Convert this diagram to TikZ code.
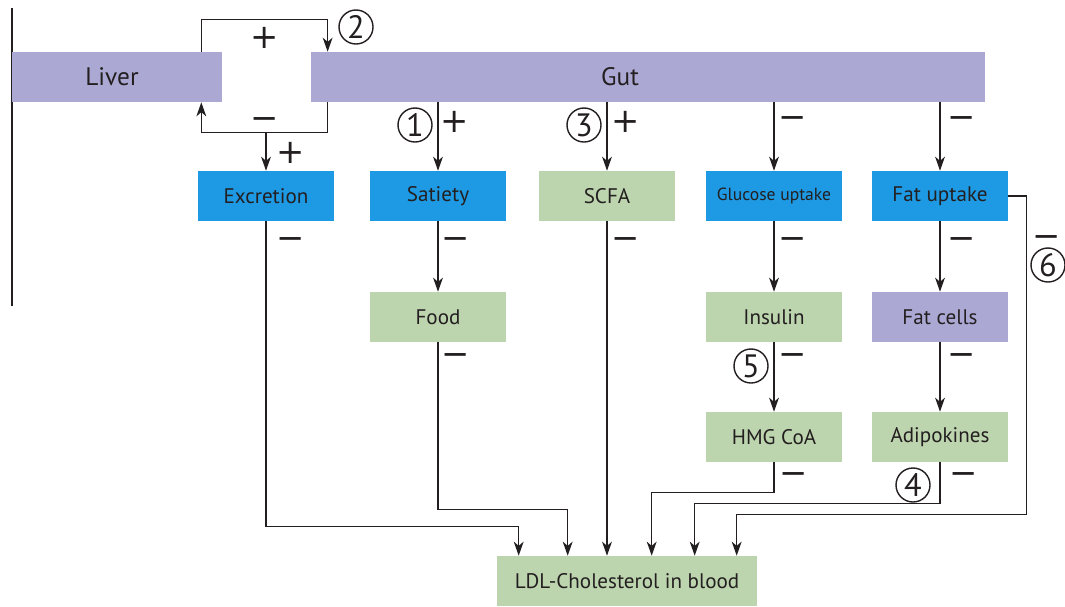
\documentclass[tikz,border=0pt]{standalone}
\usepackage{fontspec}
\setmainfont{PT Sans}
\newfontfamily\signfont{DejaVu Sans}
\usetikzlibrary{arrows.meta,calc}

\definecolor{lavender}{HTML}{ABA9D3}
\definecolor{skyblue}{HTML}{1E9AE4}
\definecolor{sage}{HTML}{BDD5AE}
\definecolor{ink}{HTML}{231F20}

\begin{document}
\begin{tikzpicture}[
    x=0.025cm, y=-0.025cm,
    box/.style={minimum width=3.375cm, minimum height=1.25cm, inner sep=0pt,
        text=ink, font=\fontsize{15}{18}\selectfont},
    organ/.style={box, fill=lavender, font=\fontsize{18}{21}\selectfont},
    bluebox/.style={box, fill=skyblue},
    greenbox/.style={box, fill=sage},
    purplebox/.style={box, fill=lavender},
    arr/.style={-{Stealth[length=10pt,width=7pt,inset=3pt]}, line width=0.9pt, draw=ink},
    sign/.style={font=\signfont\fontsize{24}{24}\selectfont, inner sep=0pt,
        text height=15.8pt, text depth=0pt, text=ink},
    num/.style={circle, draw=ink, line width=1pt, minimum size=0.85cm, inner sep=0pt,
        font=\fontsize{23}{23}\selectfont, text=ink}
]
\useasboundingbox (0,0) rectangle (1065,606);

\draw[ink, line width=0.8pt] (12,8) -- (12,306);

% top row
\node[organ, minimum width=5.25cm] (liver) at (117,77) {Liver\hspace{0.25cm}\null};
\node[organ, minimum width=16.85cm] (gut) at (648,77) {Gut\hspace{1.4cm}\null};

% second row
\node[bluebox] (excretion) at (266,196) {Excretion};
\node[bluebox] (satiety) at (438,196) {Satiety};
\node[greenbox] (scfa) at (607,196) {SCFA};
\node[bluebox, font=\fontsize{12.5}{15}\selectfont] (glucose) at (774,196) {Glucose uptake};
\node[bluebox] (fatup) at (940,196) {Fat uptake};

% lower rows
\node[greenbox] (food) at (438,317) {Food};
\node[greenbox] (insulin) at (774,317) {Insulin};
\node[purplebox] (fatcells) at (940,317) {Fat cells};
\node[greenbox] (hmg) at (774,437) {HMG CoA};
\node[greenbox] (adipo) at (940,437) {Adipokines};
\node[greenbox, minimum width=6.5cm] (ldl) at (627,581) {LDL-Cholesterol in blood};

% liver-gut loop
\draw[arr] ($(liver.north east)+(-21,0)$) |- ($(gut.north west)+(17,-32)$) -- ($(gut.north west)+(17,0)$);
\draw[arr] ($(gut.south west)+(17,0)$) |- ($(liver.south east)+(-21,30)$) -- ($(liver.south east)+(-21,0)$);
\draw[arr] ($(excretion.north)+(0,-39)$) -- (excretion.north);

\foreach \b in {satiety,scfa,glucose,fatup}
    \draw[arr] (gut.south -| \b.north) -- (\b.north);
\foreach \a/\b in {satiety/food, glucose/insulin, fatup/fatcells, insulin/hmg, fatcells/adipo}
    \draw[arr] (\a) -- (\b);

% into the blood
\foreach \a/\dx/\dy in {excretion/22/29, food/71/46, hmg/155/63, adipo/198/52}
    \draw[arr] (\a.south) |- ($(ldl.north west)+(\dx,-\dy)$) -- ($(ldl.north west)+(\dx,0)$);
\draw[arr] (scfa.south) -- (scfa.south |- ldl.north);
\draw[arr] (fatup.east) -- ++(19,0) |- ($(ldl.north west)+(240,-41)$) -- ($(ldl.north west)+(240,0)$);

% signs
\foreach \x/\y [count=\i] in {265/37, 291/152, 455/121, 626/121}
    \node[sign] (plus\i) at (\x,\y) {+};
\foreach \x/\y [count=\i] in {265/118, 793/117, 962/117, 291/238, 456/238, 626/238,
        793/238, 962/238, 1047/236, 456/354, 793/354, 962/354, 794/473, 964/473}
    \node[sign] (minus\i) at (\x,\y) {−};
\foreach \n/\x/\y in {1/415/125, 2/356/27, 3/584/125, 4/913/485, 5/751/366, 6/1048/265}
    \node[num] (n\n) at (\x,\y) {\n};

\end{tikzpicture}
\end{document}
